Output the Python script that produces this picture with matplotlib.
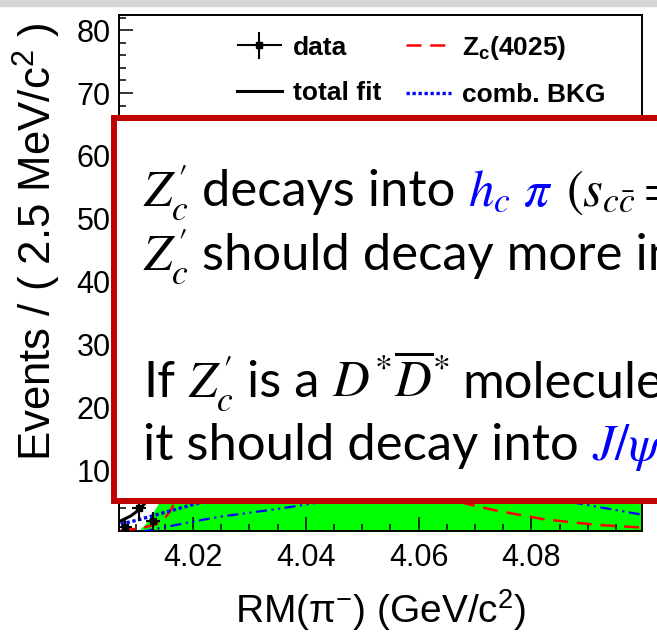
import numpy as np
import matplotlib
matplotlib.use("Agg")
import matplotlib.pyplot as plt
from matplotlib.patches import Rectangle
from matplotlib.ticker import MultipleLocator, FormatStrFormatter
from matplotlib.container import ErrorbarContainer
from matplotlib.legend_handler import HandlerErrorbar

plt.rcParams['font.family'] = 'Liberation Sans'
plt.rcParams['mathtext.fontset'] = 'custom'
plt.rcParams['mathtext.rm'] = 'Liberation Sans'
plt.rcParams['mathtext.it'] = 'Liberation Sans:italic'
plt.rcParams['mathtext.bf'] = 'Liberation Sans:bold'

# RM(pi) spectrum, 2.5 MeV bins (most of it is hidden under the text box)
data_x = [4.0080, 4.0105, 4.0130, 4.0155, 4.0180, 4.0205, 4.0230, 4.0255, 4.0280,
          4.0305, 4.0330, 4.0355, 4.0380, 4.0405, 4.0430, 4.0455, 4.0480, 4.0505,
          4.0530, 4.0555, 4.0580, 4.0605, 4.0630, 4.0655, 4.0680, 4.0705, 4.0730,
          4.0755, 4.0780, 4.0805, 4.0830, 4.0855, 4.0880, 4.0905, 4.0930, 4.0955, 4.0980]
data_y = [1, 4, 2, 12, 21, 30, 38, 41, 47, 43, 45, 40, 44, 37, 39, 35, 33, 36, 30,
          31, 27, 29, 26, 24, 27, 22, 24, 21, 23, 19, 21, 18, 20, 17, 19, 16, 18]

# total fit
fit_x = [4.0072, 4.0090, 4.0105, 4.0115, 4.0130, 4.0150, 4.0180, 4.0220, 4.0260, 4.0300,
         4.0350, 4.0400, 4.0500, 4.0600, 4.0700, 4.0800, 4.0900, 4.0996]
fit_y = [2.0, 2.8, 3.8, 4.8, 7.0, 11, 20, 32, 40, 44, 43, 40, 34, 28, 24, 21, 19, 17]

# Zc(4025) signal
sig_x = [4.0072, 4.0095, 4.0115, 4.0135, 4.0150, 4.0160, 4.0168, 4.0185, 4.0200, 4.0225,
         4.0250, 4.0300, 4.0350, 4.0400, 4.0450, 4.0500, 4.0550, 4.0600, 4.0650, 4.0700,
         4.0735, 4.0765, 4.0820, 4.0870, 4.0920, 4.0996]
sig_y = [0.5, 0.7, 1.0, 1.5, 2.4, 3.6, 5.0, 9.0, 13, 19, 23, 26, 24, 20, 15.5, 11.8,
         9.0, 7.0, 5.5, 4.4, 3.7, 3.2, 2.3, 1.8, 1.35, 0.95]

# combinatorial background
comb_x = [4.0072, 4.0100, 4.0140, 4.0200, 4.0250, 4.0300, 4.0400, 4.0500, 4.0600,
          4.0700, 4.0800, 4.0900, 4.0996]
comb_y = [1.5, 2.1, 3.1, 4.6, 5.8, 7.0, 9.0, 10.5, 11.5, 12.0, 12.3, 12.5, 12.6]

# other background component (dash-dot)
bkg2_x = [4.0110, 4.0150, 4.0200, 4.0250, 4.0300, 4.0350, 4.0400, 4.0500, 4.0600,
          4.0700, 4.0800, 4.0850, 4.0895, 4.0945, 4.0996]
bkg2_y = [0.3, 1.0, 1.9, 2.7, 3.3, 3.9, 4.6, 6.0, 6.6, 6.5, 5.9, 5.3, 4.6, 3.8, 3.0]

# filled component
fill_x = [4.0095, 4.0105, 4.0115, 4.0125, 4.0135, 4.0150, 4.0180, 4.0220, 4.0280,
          4.0350, 4.0450, 4.0550, 4.0650, 4.0750, 4.0850, 4.0996]
fill_y = [0, 0.6, 1.5, 2.8, 4.2, 6.5, 11, 17, 22, 24, 23, 20, 16, 12, 9, 6.5]

W, H = 657, 639
fig = plt.figure(figsize=(W / 100, H / 100), dpi=100)
ax = fig.add_axes([119 / W, 108 / H, 523 / W, 516 / H])

ax.fill_between(fill_x, 0, fill_y, color='#00ff00', lw=0, zorder=1)
l_sig, = ax.plot(sig_x, sig_y, color='red', lw=1.8, dashes=(6, 3.5), zorder=3)
l_comb, = ax.plot(comb_x, comb_y, color='blue', lw=2.4, dashes=(1, 0.8), zorder=3)
ax.plot(bkg2_x, bkg2_y, color='blue', lw=1.6, dashes=(5, 2, 1, 2, 1, 2), zorder=3)
l_fit, = ax.plot(fit_x, fit_y, color='black', lw=2.2, zorder=4)
eb = ax.errorbar(data_x, data_y, xerr=0.00125, yerr=np.sqrt(data_y), fmt='s',
                 color='black', ms=5, elinewidth=1.5, capsize=0, zorder=5)

ax.set_xlim(4.0069, 4.0996)
ax.set_ylim(0.4, 82.4)
ax.xaxis.set_major_locator(MultipleLocator(0.02))
ax.xaxis.set_minor_locator(MultipleLocator(0.005))
ax.xaxis.set_major_formatter(FormatStrFormatter('%.2f'))
ax.yaxis.set_major_locator(MultipleLocator(10))
ax.yaxis.set_minor_locator(MultipleLocator(2))
ax.tick_params(which='both', direction='in', top=False, right=False,
               labelsize=22, width=1.1)
ax.tick_params(which='major', length=10)
ax.tick_params(which='minor', length=5)
ax.tick_params(axis='x', pad=9)
ax.tick_params(axis='y', pad=6)
for s in ax.spines.values():
    s.set_linewidth(1.4)

ax.set_xlabel(r'RM(π$^{-}$) (GeV/c$^{2}$)', fontsize=28, va='center')
ax.xaxis.set_label_coords(0.5, -0.153)
ax.set_ylabel(r'Events / ( 2.5 MeV/c$^{2}$ )', fontsize=31.5, loc='top', va='center')
ax.yaxis.set_label_coords(-0.157, 0.985)

ax.legend([eb, l_fit, l_sig, l_comb],
          ['data', 'total fit', r'Z$_{\mathbf{c}}$(4025)', 'comb. BKG'],
          ncol=2, frameon=False, loc='upper left', bbox_to_anchor=(0.2256, 0.964),
          prop={'family': 'Liberation Sans', 'weight': 'bold', 'size': 19},
          handlelength=1.7, handletextpad=0.42, columnspacing=0.95,
          labelspacing=0.82, borderpad=0, borderaxespad=0,
          handler_map={ErrorbarContainer: HandlerErrorbar(xerr_size=0.85, yerr_size=0.5)})

# slide decoration: grey strip on top and the red framed text box
fig.patches.append(Rectangle((0, 1 - 6 / H), 1, 6 / H, transform=fig.transFigure,
                             color='#d6d6d6', zorder=0))
fig.patches.append(Rectangle((114 / W, (H - 501) / H), 700 / W, 383 / H,
                             transform=fig.transFigure, facecolor='white',
                             edgecolor='#c00000', lw=4.3, zorder=10))

blue = '#0000ff'
FS = 36.5
renderer = fig.canvas.get_renderer()


def width_of(s):
    t = fig.text(0, 0, s, fontsize=FS, family='Lato')
    w = t.get_window_extent(renderer).width
    t.remove()
    return w


space = width_of('a a') - width_of('aa')

zc = r"$Z^{\prime}_{c}$"
lines = [
    (206, [(zc, 'k'), ("decays into", 'k'), (r"$h_c\ \pi$", blue),
           (r"$(s_{c\bar{c}}=1)$", 'k')]),
    (270, [(zc, 'k'), ("should decay more into", 'k'),
           (r"$h_c\ \pi$", blue)]),
    (397, [("If", 'k'), (zc, 'k'), ("is a", 'k'),
           (r"$D^{*}\overline{D}^{*}$", 'k'), ("molecule,", 'k')]),
    (460, [("it should decay into", 'k'), (r"$J/\psi\ \pi$", blue)]),
]

for base, pieces in lines:
    x = 143
    for s, c in pieces:
        t = fig.text(x / W, (H - base) / H, s, fontsize=FS, family='Lato', color=c,
                     math_fontfamily='stix', va='baseline', ha='left', zorder=11)
        x = t.get_window_extent(renderer).x1 + space

fig.savefig('out.png', dpi=100)
